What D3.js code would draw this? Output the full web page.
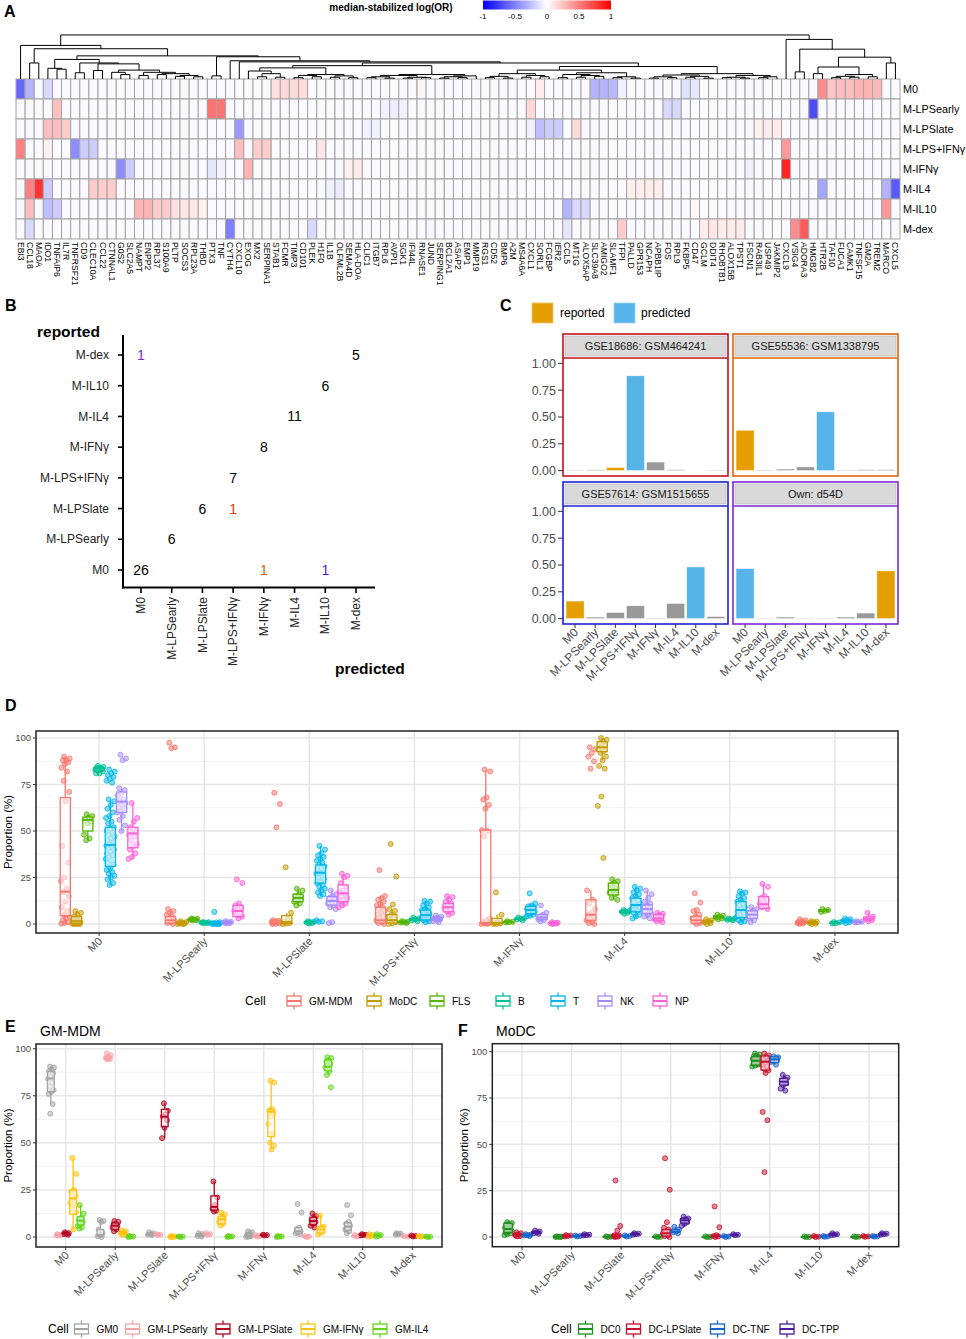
<!DOCTYPE html>
<html><head><meta charset="utf-8">
<script src="https://cdn.jsdelivr.net/npm/d3@7"></script>
<style>body{margin:0;background:#fff} svg{display:block;font-family:"Liberation Sans",Arial,sans-serif}</style>
</head><body><svg id="c" width="966" height="1339"></svg>
<script>
// ================= DATA =================
// Panel A
const hmGenes = ["EBI3","CCL18","MAOA","IDO1","TNFAIP6","IL7R","TNFRSF21","CD9","CLEC10A","CCL22","CTNNAL1","G0S2","SLC2A5","NAMPT","ENPP2","RPL37","S100A9","PLTP","SOCS3","RPL23A","THBD","PTX3","TNF","CYTH4","CXCL10","EXOG","MX2","SERPINA1","STAB1","FCMR","TIMP3","CD101","PLEK","H1F0","IL1B","OLFML2B","SEMA4D","HLA-DOA","CLIC1","ITGB7","RPL6","AVPI1","SGK1","IFI44L","RNASE1","JUND","SERPING1","BCL2A1","ASAP2","EMP1","MMP19","RGS1","CD52","BMP6","A2M","MS4A6A","CXCL1","SORL1","FCGBP","IER2","CCL5","MT1G","ALOX5AP","SLC39A8","AMIGO2","SLAMF1","TFPI","PALLD","GPR153","NCAPH","APBB1IP","FOS","RPL9","FKBP5","CD47","GCLM","DDIT4","RHOBTB1","ALOX15B","TPST1","FSCN1","RAB3IL1","USP49","JAKMIP2","CXCL9","VSIG4","ADORA3","HMGB2","HTR2B","TAF10","FUCA1","CAMK1","TNFSF15","GM2A","TREM2","MARCO","CXCL5"];
const hmRows = ["M0","M-LPSearly","M-LPSlate","M-LPS+IFNγ","M-IFNγ","M-IL4","M-IL10","M-dex"];
const hmBase = -0.025;
const hmEntries = [
 ["M0","EBI3",-0.6],["M0","CCL18",-0.3],["M0","IDO1",-0.15],["M0","STAB1",0.12],["M0","FCMR",0.15],["M0","TIMP3",0.15],["M0","CD101",0.14],["M0","RNASE1",0.04],["M0","SORL1",0.08],["M0","SLC39A8",-0.3],["M0","AMIGO2",-0.3],["M0","SLAMF1",-0.28],["M0","TFPI",-0.06],["M0","FKBP5",-0.12],["M0","CD47",-0.1],["M0","HTR2B",0.45],["M0","TAF10",0.22],["M0","FUCA1",0.25],["M0","CAMK1",0.25],["M0","TNFSF15",0.3],["M0","GM2A",0.3],["M0","TREM2",0.28],
 ["M-LPSearly","TNFAIP6",0.25],["M-LPSearly","PTX3",0.55],["M-LPSearly","TNF",0.55],["M-LPSearly","RPL6",-0.06],["M-LPSearly","AVPI1",-0.07],["M-LPSearly","SGK1",-0.06],["M-LPSearly","CXCL1",0.15],["M-LPSearly","FOS",-0.15],["M-LPSearly","RPL9",-0.15],["M-LPSearly","HMGB2",-0.7],
 ["M-LPSlate","IDO1",0.25],["M-LPSlate","TNFAIP6",0.25],["M-LPSlate","IL7R",0.2],["M-LPSlate","CXCL10",-0.4],["M-LPSlate","CLIC1",-0.06],["M-LPSlate","ITGB7",-0.06],["M-LPSlate","CXCL1",-0.06],["M-LPSlate","SORL1",-0.25],["M-LPSlate","FCGBP",-0.2],["M-LPSlate","IER2",-0.2],["M-LPSlate","MT1G",0.15],["M-LPSlate","RAB3IL1",0.06],["M-LPSlate","USP49",0.08],["M-LPSlate","JAKMIP2",0.08],
 ["M-LPS+IFNγ","EBI3",0.5],["M-LPS+IFNγ","IDO1",0.06],["M-LPS+IFNγ","TNFRSF21",-0.45],["M-LPS+IFNγ","CD9",-0.2],["M-LPS+IFNγ","CLEC10A",-0.2],["M-LPS+IFNγ","CXCL10",0.25],["M-LPS+IFNγ","MX2",0.2],["M-LPS+IFNγ","SERPINA1",0.2],["M-LPS+IFNγ","H1F0",0.1],["M-LPS+IFNγ","CXCL9",0.4],
 ["M-IFNγ","G0S2",-0.45],["M-IFNγ","SLC2A5",-0.2],["M-IFNγ","PTX3",-0.1],["M-IFNγ","TNF",-0.05],["M-IFNγ","EXOG",0.3],["M-IFNγ","SEMA4D",0.06],["M-IFNγ","HLA-DOA",0.08],["M-IFNγ","FSCN1",-0.06],["M-IFNγ","CXCL9",0.85],
 ["M-IL4","CCL18",0.5],["M-IL4","MAOA",0.8],["M-IL4","IDO1",-0.2],["M-IL4","CLEC10A",0.2],["M-IL4","CCL22",0.2],["M-IL4","CTNNAL1",0.2],["M-IL4","IL1B",-0.06],["M-IL4","OLFML2B",-0.08],["M-IL4","PALLD",0.07],["M-IL4","GPR153",0.07],["M-IL4","NCAPH",0.07],["M-IL4","APBB1IP",0.07],["M-IL4","HTR2B",-0.35],["M-IL4","MARCO",-0.3],["M-IL4","CXCL5",-0.65],
 ["M-IL10","CCL18",0.25],["M-IL10","IDO1",-0.25],["M-IL10","TNFAIP6",-0.2],["M-IL10","NAMPT",0.3],["M-IL10","ENPP2",0.3],["M-IL10","RPL37",0.2],["M-IL10","S100A9",0.2],["M-IL10","PLTP",0.12],["M-IL10","SOCS3",0.1],["M-IL10","RPL23A",0.1],["M-IL10","THBD",0.06],["M-IL10","CCL5",-0.3],["M-IL10","MT1G",-0.15],["M-IL10","ALOX5AP",-0.15],["M-IL10","CD47",0.03],["M-IL10","MARCO",0.4],
 ["M-dex","CCL18",-0.15],["M-dex","CYTH4",-0.5],["M-dex","PLEK",-0.15],["M-dex","JUND",-0.04],["M-dex","CCL5",-0.1],["M-dex","TFPI",0.2],["M-dex","GCLM",0.08],["M-dex","DDIT4",0.1],["M-dex","RHOBTB1",0.08],["M-dex","ALOX15B",0.08],["M-dex","TPST1",0.08],["M-dex","VSIG4",0.45],["M-dex","ADORA3",0.65]
];
// column dendrogram (leaf = column index, number after ")" = merge height, 1 = root)
const treeX = "(3,(4,5)0.22)0.24";
const treeZ = "((10,(11,12)0.1)0.15,((13,14)0.08,((15,16)0.1,((17,18)0.06,(19,20)0.05)0.08)0.12)0.15)0.2";
const treeC1 = "(" + treeX + ",((6,7)0.14,((8,9)0.19," + treeZ + ")0.34)0.36)0.44";
const treeEa1 = "((25,((26,27)0.05,(28,29)0.04)0.12)0.18,(((30,31)0.03,(32,33)0.05)0.08,((34,35)0.04,(36,37)0.03)0.07)0.1)0.25";
const treeEa2 = "((((38,39)0.03,(40,41)0.02)0.05,((42,43)0.02,(44,45)0.03)0.04)0.08,(((46,47)0.02,(48,49)0.03)0.05,50)0.07)0.1";
const treeP1 = "(((51,52)0.03,(53,54)0.02)0.06,((55,56)0.04,(57,58)0.05)0.08)0.12";
const treeP2 = "(((59,60)0.03,((61,62)0.04,(63,64)0.06)0.08)0.1,((65,66)0.03,(67,68)0.02)0.05)0.14";
const treeP3 = "((((69,70)0.02,(71,72)0.03)0.05,((73,74)0.04,(75,76)0.02)0.06)0.09,(((77,78)0.03,(79,80)0.02)0.04,((81,82)0.03,83)0.05)0.08)0.12";
const treeC2 = "((21,22)0.07,(23,(24,((" + treeEa1 + "," + treeEa2 + ")0.3,((" + treeP1 + "," + treeP2 + ")0.2," + treeP3 + ")0.28)0.36)0.385)0.41)0.5";
const treeL = "(0,((1,2)0.36,(" + treeC1 + "," + treeC2 + ")0.52)0.68)0.755";
const treeR = "(84,((85,86)0.16,(((87,88)0.12,(((89,90)0.03,(91,92)0.04)0.06,(93,94)0.05)0.1)0.27,(95,96)0.36)0.49)0.67)0.89";
const treeAll = "(" + treeL + "," + treeR + ")0.99";
const hmLegendTicks = [-1,-0.5,0,0.5,1];

// Panel B
const bClasses = ["M0","M-LPSearly","M-LPSlate","M-LPS+IFNγ","M-IFNγ","M-IL4","M-IL10","M-dex"];
const bCounts = [
 ["M-dex","M0",1,"#7a2ad9"],["M-dex","M-dex",5,"#000"],["M-IL10","M-IL10",6,"#000"],["M-IL4","M-IL4",11,"#000"],
 ["M-IFNγ","M-IFNγ",8,"#000"],["M-LPS+IFNγ","M-LPS+IFNγ",7,"#000"],["M-LPSlate","M-LPSlate",6,"#000"],["M-LPSlate","M-LPS+IFNγ",1,"#cc3a0a"],
 ["M-LPSearly","M-LPSearly",6,"#000"],["M0","M0",26,"#000"],["M0","M-IFNγ",1,"#d9600a"],["M0","M-IL10",1,"#4a1ae0"]
];

// Panel C
const cSamples = ["GSE18686: GSM464241","GSE55536: GSM1338795","GSE57614: GSM1515655","Own: d54D"];
const cBorders = ["#c4101c","#e0620e","#1f1fd6","#7a2ad9"];
const cValues = [
 [0.004,0.008,0.03,0.884,0.08,0.01,0,0.004],
 [0.377,0.005,0.015,0.035,0.548,0.005,0.01,0.01],
 [0.164,0.015,0.057,0.12,0.005,0.142,0.482,0.02],
 [0.467,0.004,0.015,0.004,0.004,0.015,0.052,0.445]
];
const cReported = [2,0,0,7];
const cPredicted = [3,4,6,0];
const cTicks = [0,0.25,0.5,0.75,1];

// Panel D
const dCats = ["M0","M-LPSearly","M-LPSlate","M-LPS+IFNγ","M-IFNγ","M-IL4","M-IL10","M-dex"];
const dCells = ["GM-MDM","MoDC","FLS","B","T","NK","NP"];
const dColors = ["#F8766D","#C49A00","#53B400","#00C094","#00B6EB","#A58AFF","#FB61D7"];
const dPoints = [
 [[90,89,88,88,87,86,84,82,77,71,66,42,33,25,23,19,17,15,12,9,7,5,4,3,2,1,0.5,0.2],[7,6,5,4,3,3,2,2,1.5,1,1,0.5,0.5,0.2,0.1,0,0,0],[59,58,57,56,55,54,48,46,45],[85,84.5,84,84,83.5,83.5,83,83,82.5,82,81,81],[83,82,81,80,79,78,77,76,67,66,64,62,60,58,57,55,54,52,51,50,49,48,47,46,45,44,43,42,42,41,40,39,38,37,36,35,34,33,32,30,29,28,27,26,25,24,22,21],[91,89,88,73,72,70,69,67,66,65,64,63,62,61,60,58,56,53,50],[65,57,55,52,50,49,48,47,45,43,42,40,38,36,35]],
 [[97.5,95,94.5,8,7,6,5,4,3,2,1,0.5,0],[1.5,1,0.8,0.5,0.3,0.2,0,0],[3,2.8,2.5,2.3,2,2],[1,1,0.8,0.7,0.5,0.5],[6.5,1,0.8,0.5,0.3,0.2,0.1,0,0,0],[1.5,1.2,1,0.8,0.5,0.3],[24,22,11,10,9,8,7,6,5,4,3]],
 [[70.5,64.5,52,2,1.8,1.5,1,0.8,0.5,0.3,0.1,0],[30.5,6,3,1,0.5,0.2,0],[19,18,16,15,14,13,12,11,10],[1.5,1.2,1,0.8,0.5,0.3],[42,40,38,37,36,35,34,33,32,31,30,29,28,27,27,26,25,24,23,22,21,20,19,18,17,16,15,2,1.5,1.2],[18,16,15,14,13,12,11,10,9,8,1,0.5],[27,26,25,22,20,18,17,16,15,14,13,12,11,10,9]],
 [[29,15,14,13,12,11,10,9,8,7,6,5,4,3,2,1,0.5,0],[43,25.5,10.5,8,7,5,4,3,2,1,0.5,0],[1.5,1.2,1,0.8,0.5],[3.5,3,2.5,2,1.5],[12.5,12,11,10,9,8,7.5,7,6,5.5,5,4.5,4,3.5,3,2.5,2,1.5,1],[4.5,4,3.5,3,2.5,2,1.5,1],[15,14.5,13,12,11,10,9,8,7,6,5]],
 [[83,82,68,67,64,62,50.5,50,47,3,2,1,0.5,0.3,0,0],[17,5,1,0.5,0.3,0,0],[1.5,1.2,1,0.8],[3.5,3,2.8,2.5,2],[16.5,11,10,9.5,9,8.5,8,7.5,7,6.5,6,5.5,5,4.5,4],[10,6,5,4,3.5,3,2.5,2,1.5],[1,0.8,0.5,0.3,0.2,0]],
 [[95,94,92,90,87.5,83.5,18,13,11,8,6,5,4,3,2,1,0.5,0],[100,99,98,97,96,95,94,93,92,90,88,85,83.5,68.5,63.5,35.5],[24,23,22,21,19,18,17,16,14,13],[7.5,7,6.8,6.5,6,5.5],[20,19,18,17,16,15,14,13,12,11,10,9.5,9,8.5,8,7,6,5,4,3],[18,16,14,12,11,10,9,8,7,6,5,4,3],[6,5.5,5,4,3.5,3,2.5,2,1.5,1]],
 [[16.5,11.5,7.5,7,5,4,3,2,1,0.5,0],[2.5,2,1.5,1,0.5,0],[5,4.5,4,3.5,3,2.5],[3,2.8,2.5,2.2,2],[17.5,17,16.5,15,14,13,12,11,10,9,8,7,6,5,4,3,2,1.5,1],[9,8,7,6,5,4,3,2,1],[21.5,20,15,14,13,12,11,10,9,8]],
 [[2.5,2,1.5,1.2,1,0.8,0.5,0.3,0],[1.5,1.2,1,0.5,0.2,0],[8,7.5,7,6.5],[1,0.8,0.5,0.3],[3,2.5,2,1.5,1,0.5],[1.5,1.2,1,0.8],[6,4,3,2.5,2,1.5]]
];
// box stats [lower whisker, Q1, median, Q3, upper whisker] (others computed from points)
const dBoxes = {"0,0":[0,4.5,17.4,68,90],"0,1":[0,0.3,1.5,4,7],"0,2":[45,50,56,57.5,59],"0,3":[81,82.5,83.5,84,85],"0,4":[21,31,42.5,52,67],"0,5":[50,60,65.8,71,73],"0,6":[35,41,48.7,52,65],
 "1,0":[0,0.5,2,4,8],"1,6":[3,4,7,10,11],"2,0":[0,0.2,1,2,2],"2,2":[10,12,14,16,19],"2,4":[15,22,27.6,31.7,42],"2,5":[8,10.2,12.4,14.7,18],"2,6":[9,12,16.5,21,27],
 "3,0":[0,0.5,2,9,15],"3,1":[0,0.5,2,5,8],"3,4":[1,2.2,4.8,7.5,12.5],"3,6":[5,6.6,9,11,15],"4,0":[0,0.2,0.5,50.5,83],"4,4":[4,5.5,7.5,9.5,11],"4,5":[1.5,2.5,3.5,5,6],
 "5,0":[0,2,5,13,18],"5,1":[88,92.7,95,98,100],"5,2":[13,15.6,18.3,22,24],"5,4":[3,6.6,10.2,13.8,20],"5,5":[3,5.7,8,10.2,18],"5,6":[1,2,3,5,6],
 "6,0":[0,0.5,2,4,7.5],"6,4":[1,3.5,7.5,12,17.5],"6,5":[1,3,5,7,9],"6,6":[8,8.4,10.6,14.7,21.5]};

// Panel E
const eCells = ["GM0","GM-LPSearly","GM-LPSlate","GM-IFNγ","GM-IL4"];
const eColors = ["#A3A3A3","#F5A3A8","#B5001F","#FFC20E","#62D41A"];
const ePoints = [
 [[90.5,90,89,88,87,85,84,82,80,78,77,76,70.5,65.5],[1.5,1.2,1,0.8],[2.5,2,1.8,1.5,1.2],[42,33.5,25,24,22,20,18,17,15,13,4],[17,12.5,10,9,8,7,6,5,4.5]],
 [[9,8.5,8,4,2,1,0.5,0],[97.5,96.5,95.5,95,94.5,94.3],[8.5,8,7,6.5,6,5.5,5,4,3],[3.5,3,2.5,2,1.5,1],[0.5,0.3,0.2,0]],
 [[2.5,2,1.5,1.2,1],[1.5,1.2,1],[71,67,65,64,62,58,52.5],[0.5,0.3,0,0],[0.3,0.2,0]],
 [[2,1.5,1,0.5,0.2],[2,1.5,1.2],[29.5,21,17,15,14,13.5],[13,12,11,10,9.5,9,8,7,6],[0.5,0.3,0.2,0]],
 [[3,2.5,2,1,0.5,0.2,0],[1,0.5,0.3],[1.2,1,0.8],[83,82,68,67,66,64,60,55,50,48.5,46.5],[0.5,0.3,0.2,0]],
 [[17.5,13,5,4,3,2.5,2,1.5],[0.5,0.2,0],[12.5,11,10,9,8,7,6,5],[11.5,5.5,5,4,3,2,1.5],[95.5,95,94,93,92,91,90,88,86,79.5]],
 [[17,11.5,8,7,6,5,4,3,2],[1,0.5,0.3],[1.5,1.2,1,0.8],[1.5,1,0.5,0.2],[1.5,1,0.5,0.2]],
 [[2,1.8,1.5,1.2],[0.5,0.2],[0.8,0.5,0.3],[0.5,0.3,0.1],[0.3,0.1,0]]
];
const eBoxes = {"0,0":[70.5,77.2,84.2,87.8,90.5],"0,3":[4,12.2,20.5,25,42],"0,4":[4.5,6.4,8.7,10.8,17],"1,0":[0,0.5,1,4,9],"1,1":[94.3,94.5,95,96,97.5],"1,2":[3,4,6,7.5,8.5],
 "2,2":[52.5,58.6,63.9,67.8,71],"3,2":[13.5,14.3,16,21.8,29.5],"3,3":[6,7,9.5,11,13],"4,0":[0,0.2,1,2,3],"4,3":[46.5,53.3,66.5,67.8,83],
 "5,0":[1.5,2,3,5,5],"5,2":[5,6.5,8.5,10.5,12.5],"5,3":[1.5,2,4,5.5,11.5],"5,4":[86,88.3,90.4,94,95.5],"6,0":[2,3.5,5.5,7.5,8]};

// Panel F
const fCells = ["DC0","DC-LPSlate","DC-TNF","DC-TPP"];
const fColors = ["#1F8F1F","#C8102E","#1565C8","#4B1A9A"];
const fPoints = [
 [[8,7.5,7,6.5,6,5.5,5,4.5,4,3.5,3,2.5,2,1.5,1],[2.5,2,1.5,1,0.5,0.3],[1.5,1.2,1,0.8,0.5],[3.5,3,2.5,2,1.8]],
 [[0.3,0.2,0.1,0,0],[1,0.8,0.5,0.3],[0.8,0.5,0.3],[1.5,1.2,1,0.8]],
 [[0.3,0.2,0],[30.5,6,3.5,1,0.8,0.5,0.3,0.2,0],[0.8,0.5,0.3],[2,1.8,1.5,1.2]],
 [[0.3,0.1,0],[42.5,25.5,8,5,4,3,2,1,0.5,0],[5.5,4,3,2.5,2],[11,10,9.5,9,8,7,6]],
 [[0.3,0,0],[16.5,5.3,1,0.5,0.3,0],[0.5,0.3,0],[1.5,1.2,1]],
 [[99,98.5,98,97.5,97,96.5,96,95.5,95,94.5,94,93.5,93,92.5,92],[99,98,97,96,95,94,93,92,91,90,88.5,67.5,63,35],[97.5,97,96.5,96,95.5,95,94.5,93],[87.5,86,85,84,83,82,80,79]],
 [[0.3,0,0],[0.5,0.2,0],[0.5,0.3,0.1],[2,1.5,1.2,1]],
 [[0.3,0.1,0],[0.5,0.3,0.1],[0.5,0.3,0.2],[2,1.8,1.5,1.2]]
];
const fBoxes = {"0,0":[1,2.5,4.3,7.4,8],"2,1":[0,0.2,0.3,1,1],"3,1":[0,0.5,2,4,5],"3,2":[2,2.5,3,4,5.5],"3,3":[6,7.5,9,10,11],"4,1":[0,0.3,0.5,1,1],
 "5,0":[92,92.8,95.1,97.3,99],"5,1":[88.5,90.1,94.6,97.7,99],"5,2":[93,94.1,95.9,97.3,97.5],"5,3":[79,82,83.8,85.6,87.5]};
const propTicks = [0,25,50,75,100];

// ================= DRAWING =================
const svg = d3.select("#c");
const GRAY30 = "#4d4d4d";

function txt(g, x, y, s, o = {}) {
  const t = g.append("text").attr("x", x).attr("y", y).text(s)
    .attr("font-size", o.size || 10).attr("fill", o.fill || "#000");
  if (o.anchor) t.attr("text-anchor", o.anchor);
  if (o.weight) t.attr("font-weight", o.weight);
  if (o.dy) t.attr("dy", o.dy);
  if (o.transform) t.attr("transform", o.transform);
  return t;
}

// panel letters
[["A",4,17],["B",5,311],["C",500,311],["D",5,711],["E",5,1032],["F",458,1036]].forEach(([l,x,y]) =>
  txt(svg, x, y, l, {size: 16, weight: "bold"}));

// ---------- Panel A: heatmap ----------
(function () {
  const g = svg.append("g");
  const x = d3.scaleBand().domain(hmGenes).range([16, 900]);
  const y = d3.scaleBand().domain(hmRows).range([79, 239]);
  const col = d3.scaleLinear().domain([-1, 0, 1]).range(["#0000ff", "#ffffff", "#ff0000"]);
  const vmap = new Map(hmEntries.map(d => [d[0] + "|" + d[1], d[2]]));
  g.selectAll("rect.cell").data(d3.cross(hmRows, hmGenes)).join("rect")
    .attr("x", d => x(d[1])).attr("y", d => y(d[0]))
    .attr("width", x.bandwidth()).attr("height", y.bandwidth())
    .attr("fill", d => col(vmap.has(d[0] + "|" + d[1]) ? vmap.get(d[0] + "|" + d[1]) : hmBase))
    .attr("stroke", "#a4a4a4").attr("stroke-width", 1);
  g.selectAll("text.row").data(hmRows).join("text")
    .attr("x", 903).attr("y", d => y(d) + y.bandwidth() / 2).attr("dy", "0.35em")
    .attr("font-size", 10.8).text(d => d);
  g.selectAll("text.colname").data(hmGenes).join("text")
    .attr("font-size", 8.6).attr("dy", "0.35em")
    .attr("transform", d => `translate(${x(d) + x.bandwidth() / 2},242) rotate(90)`)
    .text(d => d);

  // dendrogram
  function parse(s) {
    let i = 0;
    function num() { const j = i; while (i < s.length && /[0-9.]/.test(s[i])) i++; return +s.slice(j, i); }
    function node() {
      if (s[i] === "(") {
        i++; const a = node(); i++; const b = node(); i++;
        return {children: [a, b], h: num()};
      }
      return {leaf: num(), h: 0};
    }
    return node();
  }
  const root = d3.hierarchy(parse(treeAll));
  const hy = d3.scaleLinear().domain([0, 1]).range([79, 34.5]);
  root.eachAfter(n => {
    n.px = n.children ? d3.mean(n.children, c => c.px) : x(hmGenes[n.data.leaf]) + x.bandwidth() / 2;
    n.py = hy(n.data.h);
  });
  const segs = [];
  root.each(n => {
    if (!n.children) return;
    const [a, b] = n.children;
    segs.push([a.px, n.py, b.px, n.py], [a.px, n.py, a.px, a.py], [b.px, n.py, b.px, b.py]);
  });
  g.selectAll("line.tree").data(segs).join("line")
    .attr("x1", d => d[0]).attr("y1", d => d[1]).attr("x2", d => d[2]).attr("y2", d => d[3])
    .attr("stroke", "#000").attr("stroke-width", 1);

  // legend
  txt(g, 391, 11, "median-stabilized log(OR)", {size: 10, weight: "bold", anchor: "middle"});
  const lx = d3.scaleLinear().domain([-1, 1]).range([483, 611]);
  const grad = svg.append("defs").append("linearGradient").attr("id", "hmgrad");
  hmLegendTicks.forEach(t => grad.append("stop").attr("offset", (t + 1) / 2).attr("stop-color", col(t)));
  g.append("rect").attr("x", 483).attr("y", 0.5).attr("width", 128).attr("height", 9).attr("fill", "url(#hmgrad)");
  g.selectAll("text.lt").data(hmLegendTicks).join("text")
    .attr("x", d => lx(d)).attr("y", 19).attr("text-anchor", "middle").attr("font-size", 8)
    .text(d => String(d));
})();

// ---------- Panel B ----------
(function () {
  const g = svg.append("g");
  const x = d3.scalePoint().domain(bClasses).range([141, 356]);
  const y = d3.scalePoint().domain(bClasses).range([570, 355]);
  g.append("line").attr("x1", 123).attr("x2", 123).attr("y1", 335).attr("y2", 588.5).attr("stroke", "#000").attr("stroke-width", 2);
  g.append("line").attr("x1", 122).attr("x2", 375).attr("y1", 587.5).attr("y2", 587.5).attr("stroke", "#000").attr("stroke-width", 2);
  bClasses.forEach(c => {
    g.append("line").attr("x1", 118).attr("x2", 123).attr("y1", y(c)).attr("y2", y(c)).attr("stroke", "#000").attr("stroke-width", 1.6);
    txt(g, 109, y(c), c, {size: 12, anchor: "end", dy: "0.35em", fill: "#222"});
    g.append("line").attr("x1", x(c)).attr("x2", x(c)).attr("y1", 587.5).attr("y2", 593).attr("stroke", "#000").attr("stroke-width", 1.6);
    txt(g, 0, 0, c, {size: 12, anchor: "end", dy: "0.35em", fill: "#222", transform: `translate(${x(c)},597) rotate(-90)`});
  });
  bCounts.forEach(([r, p, n, color]) => txt(g, x(p), y(r), n, {size: 14, anchor: "middle", dy: "0.36em", fill: color}));
  txt(g, 37, 337, "reported", {size: 15.5, weight: "bold"});
  txt(g, 335, 674, "predicted", {size: 15.5, weight: "bold"});
})();

// ---------- Panel C ----------
(function () {
  const g = svg.append("g");
  const repC = "#E69F00", predC = "#56B4E9";
  g.append("rect").attr("x", 532).attr("y", 303).attr("width", 21).attr("height", 20).attr("fill", repC).attr("stroke", "#f2c866").attr("stroke-width", 0.8);
  txt(g, 560, 313, "reported", {size: 12, dy: "0.35em"});
  g.append("rect").attr("x", 614).attr("y", 303).attr("width", 21).attr("height", 20).attr("fill", predC).attr("stroke", "#9ad4f3").attr("stroke-width", 0.8);
  txt(g, 641, 313, "predicted", {size: 12, dy: "0.35em"});
  const boxes = [[563, 728, 334, 476], [733, 898, 334, 476], [563, 728, 482, 624], [733, 898, 482, 624]];
  boxes.forEach(([x0, x1, y0, y1], i) => {
    const x = d3.scalePoint().domain(bClasses).range([x0, x1]).padding(0.6);
    const y = d3.scaleLinear().domain([-0.05, 1.05]).range([y1, y0 + 24]);
    const bw = x.step() * 0.9;
    g.append("rect").attr("x", x0 + 2).attr("y", y0 + 2).attr("width", x1 - x0 - 4).attr("height", 20)
      .attr("fill", "#d9d9d9").attr("stroke", "#b5b5b5").attr("stroke-width", 0.6);
    txt(g, (x0 + x1) / 2, y0 + 12, cSamples[i], {size: 11, anchor: "middle", dy: "0.35em", fill: "#1a1a1a"});
    g.selectAll(null).data(cValues[i]).join("rect")
      .attr("x", (d, k) => x(bClasses[k]) - bw / 2).attr("width", bw)
      .attr("y", d => y(d)).attr("height", d => y(0) - y(d))
      .attr("fill", (d, k) => k === cReported[i] ? repC : k === cPredicted[i] ? predC : "#999999")
      .attr("stroke", "#ffffff").attr("stroke-width", 0.5);
    g.append("rect").attr("x", x0).attr("y", y0).attr("width", x1 - x0).attr("height", y1 - y0)
      .attr("fill", "none").attr("stroke", cBorders[i]).attr("stroke-width", 1.6);
    g.append("line").attr("x1", x0).attr("x2", x1).attr("y1", y0 + 24).attr("y2", y0 + 24).attr("stroke", cBorders[i]).attr("stroke-width", 1.6);
    if (i % 2 === 0) {
      cTicks.forEach(t => {
        g.append("line").attr("x1", x0 - 5).attr("x2", x0).attr("y1", y(t)).attr("y2", y(t)).attr("stroke", "#333").attr("stroke-width", 1);
        txt(g, x0 - 7, y(t), d3.format(".2f")(t), {size: 12.5, anchor: "end", dy: "0.35em", fill: GRAY30});
      });
    }
    if (i >= 2) {
      bClasses.forEach(c => {
        g.append("line").attr("x1", x(c)).attr("x2", x(c)).attr("y1", y1).attr("y2", y1 + 4).attr("stroke", "#333").attr("stroke-width", 1);
        txt(g, 0, 0, c, {size: 12, anchor: "end", fill: GRAY30, transform: `translate(${x(c) + 4},${y1 + 9}) rotate(-45)`});
      });
    }
  });
})();

// ---------- boxplot panels ----------
function tukey(pts) {
  const s = pts.slice().sort(d3.ascending);
  const q1 = d3.quantile(s, 0.25), med = d3.quantile(s, 0.5), q3 = d3.quantile(s, 0.75);
  const iqr = q3 - q1;
  const lo = d3.min(s.filter(v => v >= q1 - 1.5 * iqr)), hi = d3.max(s.filter(v => v <= q3 + 1.5 * iqr));
  return [lo, q1, med, q3, hi];
}
function drawKey(g, cx, cy, color) {
  g.append("line").attr("x1", cx).attr("x2", cx).attr("y1", cy - 8.5).attr("y2", cy + 8.5).attr("stroke", color).attr("stroke-width", 1.3);
  g.append("rect").attr("x", cx - 7).attr("y", cy - 5).attr("width", 14).attr("height", 10).attr("fill", "#fff").attr("stroke", color).attr("stroke-width", 1.3);
  g.append("line").attr("x1", cx - 7).attr("x2", cx + 7).attr("y1", cy).attr("y2", cy).attr("stroke", color).attr("stroke-width", 2);
}
function boxPanel(cfg) {
  const {left, right, top, bottom, y0, y100, cats, cells, colors, points, boxes, jit, title, yTitleX, legend} = cfg;
  const g = svg.append("g");
  const x = d3.scalePoint().domain(cats).range([left, right]).padding(0.6);
  const y = d3.scaleLinear().domain([0, 100]).range([y0, y100]);
  const dstep = 0.75 * x.step() / cells.length;
  const bw = dstep * 0.9;
  [12.5, 37.5, 62.5, 87.5].forEach(v => g.append("line").attr("x1", left).attr("x2", right).attr("y1", y(v)).attr("y2", y(v)).attr("stroke", "#ededed").attr("stroke-width", 0.8));
  propTicks.forEach(v => g.append("line").attr("x1", left).attr("x2", right).attr("y1", y(v)).attr("y2", y(v)).attr("stroke", "#e6e6e6").attr("stroke-width", 1.5));
  cats.forEach(c => g.append("line").attr("x1", x(c)).attr("x2", x(c)).attr("y1", top).attr("y2", bottom).attr("stroke", "#e6e6e6").attr("stroke-width", 1.5));
  const pos = (ci, k) => x(cats[ci]) + (k - (cells.length - 1) / 2) * dstep;
  points.forEach((row, ci) => row.forEach((pts, k) => {
    const cx = pos(ci, k);
    g.selectAll(null).data(pts).join("circle")
      .attr("cx", (v, i) => cx + ((((i * 0.6180339887) + 0.37) % 1) - 0.5) * 2 * jit)
      .attr("cy", v => y(v)).attr("r", 2.5)
      .attr("fill", colors[k]).attr("fill-opacity", 0.5)
      .attr("stroke", colors[k]).attr("stroke-opacity", 0.9).attr("stroke-width", 0.9);
  }));
  points.forEach((row, ci) => row.forEach((pts, k) => {
    const [lo, q1, med, q3, hi] = boxes[ci + "," + k] || tukey(pts);
    const cx = pos(ci, k), c = colors[k];
    g.append("line").attr("x1", cx).attr("x2", cx).attr("y1", y(hi)).attr("y2", y(q3)).attr("stroke", c).attr("stroke-width", 1.3);
    g.append("line").attr("x1", cx).attr("x2", cx).attr("y1", y(q1)).attr("y2", y(lo)).attr("stroke", c).attr("stroke-width", 1.3);
    g.append("rect").attr("x", cx - bw / 2).attr("width", bw).attr("y", y(q3)).attr("height", Math.max(0.5, y(q1) - y(q3)))
      .attr("fill", "#fff").attr("fill-opacity", 0.55).attr("stroke", c).attr("stroke-width", 1.3);
    g.append("line").attr("x1", cx - bw / 2).attr("x2", cx + bw / 2).attr("y1", y(med)).attr("y2", y(med)).attr("stroke", c).attr("stroke-width", 2);
  }));
  g.append("rect").attr("x", left).attr("y", top).attr("width", right - left).attr("height", bottom - top)
    .attr("fill", "none").attr("stroke", "#222").attr("stroke-width", 1.5);
  propTicks.forEach(v => {
    g.append("line").attr("x1", left - 3).attr("x2", left).attr("y1", y(v)).attr("y2", y(v)).attr("stroke", "#333");
    txt(g, left - 5, y(v), v, {size: 9.5, anchor: "end", dy: "0.35em", fill: GRAY30});
  });
  cats.forEach(c => {
    g.append("line").attr("x1", x(c)).attr("x2", x(c)).attr("y1", bottom).attr("y2", bottom + 3).attr("stroke", "#333");
    txt(g, 0, 0, c, {size: 11, anchor: "end", fill: GRAY30, transform: `translate(${x(c) + 4},${bottom + 9}) rotate(-45)`});
  });
  txt(g, 0, 0, "Proportion (%)", {size: 11.5, anchor: "middle", transform: `translate(${yTitleX},${(top + bottom) / 2}) rotate(-90)`});
  if (title) txt(g, title[1], title[2], title[0], {size: 14});
  txt(g, legend.cellX, legend.y, "Cell", {size: 12, dy: "0.35em"});
  cells.forEach((c, k) => {
    drawKey(g, legend.keys[k], legend.y, colors[k]);
    txt(g, legend.keys[k] + 15, legend.y, c, {size: 10, dy: "0.35em"});
  });
}

boxPanel({left: 36, right: 898, top: 731, bottom: 933, y0: 924, y100: 738, cats: dCats, cells: dCells, colors: dColors,
  points: dPoints, boxes: dBoxes, jit: 4.5, yTitleX: 12,
  legend: {cellX: 245, y: 1001, keys: [294, 374, 437, 503, 558, 605, 660]}});
boxPanel({left: 36, right: 442, top: 1044, bottom: 1247, y0: 1237, y100: 1048.7, cats: dCats, cells: eCells, colors: eColors,
  points: ePoints, boxes: eBoxes, jit: 3.2, yTitleX: 12, title: ["GM-MDM", 40, 1036],
  legend: {cellX: 48, y: 1329, keys: [81.5, 132.5, 223, 308, 380]}});
boxPanel({left: 492.3, right: 898.7, top: 1043.7, bottom: 1246.7, y0: 1237, y100: 1051.7, cats: dCats, cells: fCells, colors: fColors,
  points: fPoints, boxes: fBoxes, jit: 3.8, yTitleX: 468, title: ["MoDC", 496, 1036],
  legend: {cellX: 551, y: 1329, keys: [585.5, 633.5, 717.5, 787]}});
</script></body></html>
